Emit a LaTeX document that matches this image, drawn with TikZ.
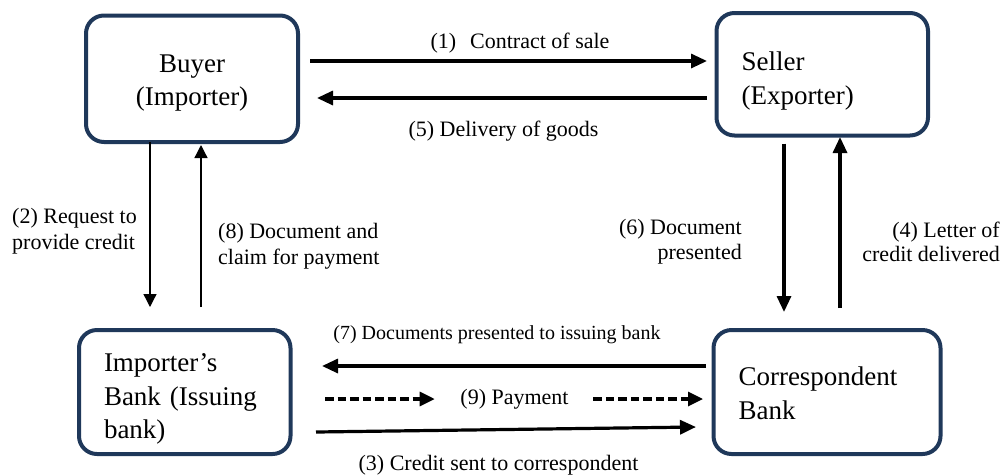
\documentclass[tikz,border=0pt]{standalone}
\usepackage{fontspec}
\setmainfont{Liberation Serif}
\usetikzlibrary{arrows.meta}
\definecolor{boxline}{RGB}{31,56,90}
\begin{document}
\begin{tikzpicture}[x=1pt,y=-1pt,
  box/.style={draw=boxline,line width=4pt,rounded corners=18pt,outer sep=0pt,inner xsep=25pt,inner ysep=0pt,font=\fontsize{27}{33.5}\selectfont},
  lbl/.style={inner sep=0pt,font=\fontsize{22}{26.5}\selectfont},
  bigarr/.style={line width=3.2pt,-{Triangle[length=16pt,width=14pt]}},
  thinarr/.style={line width=1.3pt,-{Triangle[length=13pt,width=13pt]}},
  dasharr/.style={line width=3.2pt,dash pattern=on 8.5pt off 4pt,-{Triangle[length=15pt,width=14pt]}}]

\useasboundingbox (0,0) rectangle (1008,475);

\node[box,text width=162pt,minimum height=126.5pt,text height=26pt,align=center] (buyer) at (192,78.75) {Buyer\\(Importer)};
\node[box,text width=161.5pt,minimum height=122.5pt,text height=32.5pt,align=left] (seller) at (822.25,74.25) {Seller\\(Exporter)};
\node[box,text width=161.5pt,minimum height=124pt,text height=32.3pt,align=left] (ibank) at (184.75,392) {Importer’s\\Bank (Issuing\\bank)};
\node[box,text width=177pt,minimum height=124pt,text height=21.5pt,align=left] (corr) at (827,392) {Correspondent\\Bank};

\node[lbl] (contract) at (520,43) {(1)\hspace{14pt}Contract of sale};
\node[lbl] (delivery) at (503.5,131) {(5) Delivery of goods};
\node[lbl,anchor=west,align=left] (request) at (12,231) {(2) Request to\\provide credit};
\node[lbl,anchor=west,align=left] (claim) at (218,246) {(8) Document and\\claim for payment};
\node[lbl,anchor=east,align=right,font=\fontsize{22}{25}\selectfont] (presented) at (742,242) {(6) Document\\presented};
\node[lbl,anchor=east,align=right,font=\fontsize{22}{23.5}\selectfont] (letter) at (1000,242) {(4) Letter of\\credit delivered};
\node[lbl,font=\fontsize{20}{24}\selectfont] (docs) at (497,335) {(7) Documents presented to issuing bank};
\node[lbl] (pay) at (514.5,399) {(9) Payment};
\node[lbl] (sent) at (498.5,465) {(3) Credit sent to correspondent};

% top row
\draw[bigarr] ([xshift=12pt,yshift=17.75pt]buyer.east) -- ([xshift=-9.5pt,yshift=13.25pt]seller.west);
\draw[bigarr] ([xshift=-9.5pt,yshift=-23.75pt]seller.west) -- ([xshift=19pt,yshift=-19.25pt]buyer.east);

% left column
\draw[thinarr] ([xshift=-42pt]buyer.south) -- ([xshift=-34.75pt,yshift=23pt]ibank.north);
\draw[thinarr] ([xshift=16.25pt,yshift=23pt]ibank.north) -- ([xshift=9pt,yshift=-3pt]buyer.south);

% right column
\draw[bigarr] ([xshift=-38.25pt,yshift=-8pt]seller.south) -- ([xshift=-43pt,yshift=18pt]corr.north);
\draw[bigarr] ([xshift=13pt,yshift=22pt]corr.north) -- ([xshift=17.75pt,yshift=-1.5pt]seller.south);

% bottom row
\draw[bigarr] ([xshift=-7.5pt,yshift=26pt]corr.west) -- ([xshift=31.5pt,yshift=26pt]ibank.east);
\draw[dasharr] ([xshift=34.5pt,yshift=-7pt]ibank.east) -- ([xshift=-25.5pt]pay.west);
\draw[dasharr] ([xshift=24.5pt]pay.east) -- ([xshift=-10.5pt,yshift=-7pt]corr.west);
\draw[bigarr] ([xshift=25.5pt,yshift=-40pt]ibank.east) -- ([xshift=-17.5pt,yshift=-35pt]corr.west);

\end{tikzpicture}
\end{document}
